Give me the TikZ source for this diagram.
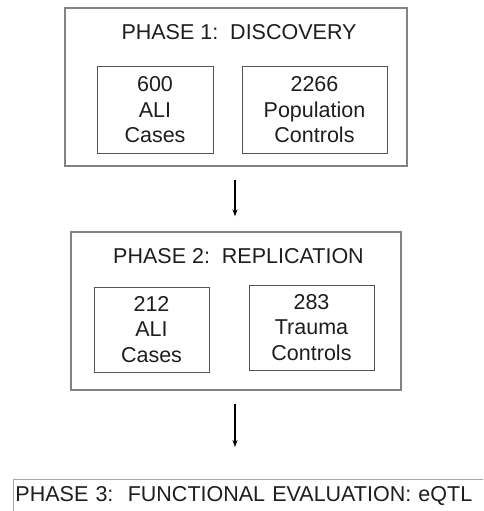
\documentclass[tikz,border=0pt]{standalone}
\usepackage{fontspec}
\setmainfont{Liberation Sans}
\usetikzlibrary{arrows.meta}

\definecolor{outerline}{RGB}{130,130,130}
\definecolor{innerline}{RGB}{85,85,85}
\definecolor{phasetext}{RGB}{30,30,30}

\tikzset{
  phasebox/.style={draw=outerline, line width=1.3pt, minimum width=#1, minimum height=158pt, inner sep=0pt},
  groupbox/.style={draw=innerline, line width=1pt, align=center, inner sep=0pt,
    font=\fontsize{21.5}{25.5}\selectfont, text=phasetext, minimum height=86pt},
  phasetitle/.style={font=\fontsize{21.5}{25.5}\selectfont, text=phasetext, anchor=base, inner sep=0pt},
  flow/.style={-{Stealth[length=7pt,width=5pt]}, line width=1.2pt}
}

\begin{document}
\begin{tikzpicture}[x=1pt,y=-1pt]
            \clip (0,0) rectangle (483,511);
            \fill[white] (0,0) rectangle (483,511);

            % phase 1
            \node[phasebox=342pt] (phaseone) at (236,87) {};
            \node[phasetitle] (titleone) at (239,40) {PHASE 1:\ \ DISCOVERY};
            \node[groupbox, minimum width=116pt] (casesone) at (155,110) {600\\ALI\\Cases};
            \node[groupbox, minimum width=145pt] (controlsone) at (314.5,110) {2266\\Population\\Controls};

            % phase 2
            \node[phasebox=330pt] (phasetwo) at (236,311) {};
            \node[phasetitle] (titletwo) at (238.5,263) {PHASE 2:\ \ REPLICATION};
            \node[groupbox, minimum width=115pt, minimum height=85pt] (casestwo) at (151.5,329.5) {212\\ALI\\Cases};
            \node[groupbox, minimum width=125pt, minimum height=85pt] (controlstwo) at (311.5,327.5) {283\\Trauma\\Controls};

            % phase 3
            \node[draw=outerline!70, line width=1pt, anchor=north west, font=\fontsize{21.5}{25.5}\selectfont,
                  text=phasetext, inner xsep=2.5pt, inner ysep=6.5pt, text depth=30pt, text width=472pt,
                  align=left] (phasethree) at (12.5,479) {PHASE 3:\ \ FUNCTIONAL EVALUATION: eQTL};

            \draw[flow, shorten <=13pt, shorten >=15pt] (phaseone.south -| 235,0) -- (phasetwo.north -| 235,0);
            \draw[flow, shorten <=13pt, shorten >=32pt] (phasetwo.south -| 235,0) -- (phasethree.north -| 235,0);
\end{tikzpicture}
\end{document}
